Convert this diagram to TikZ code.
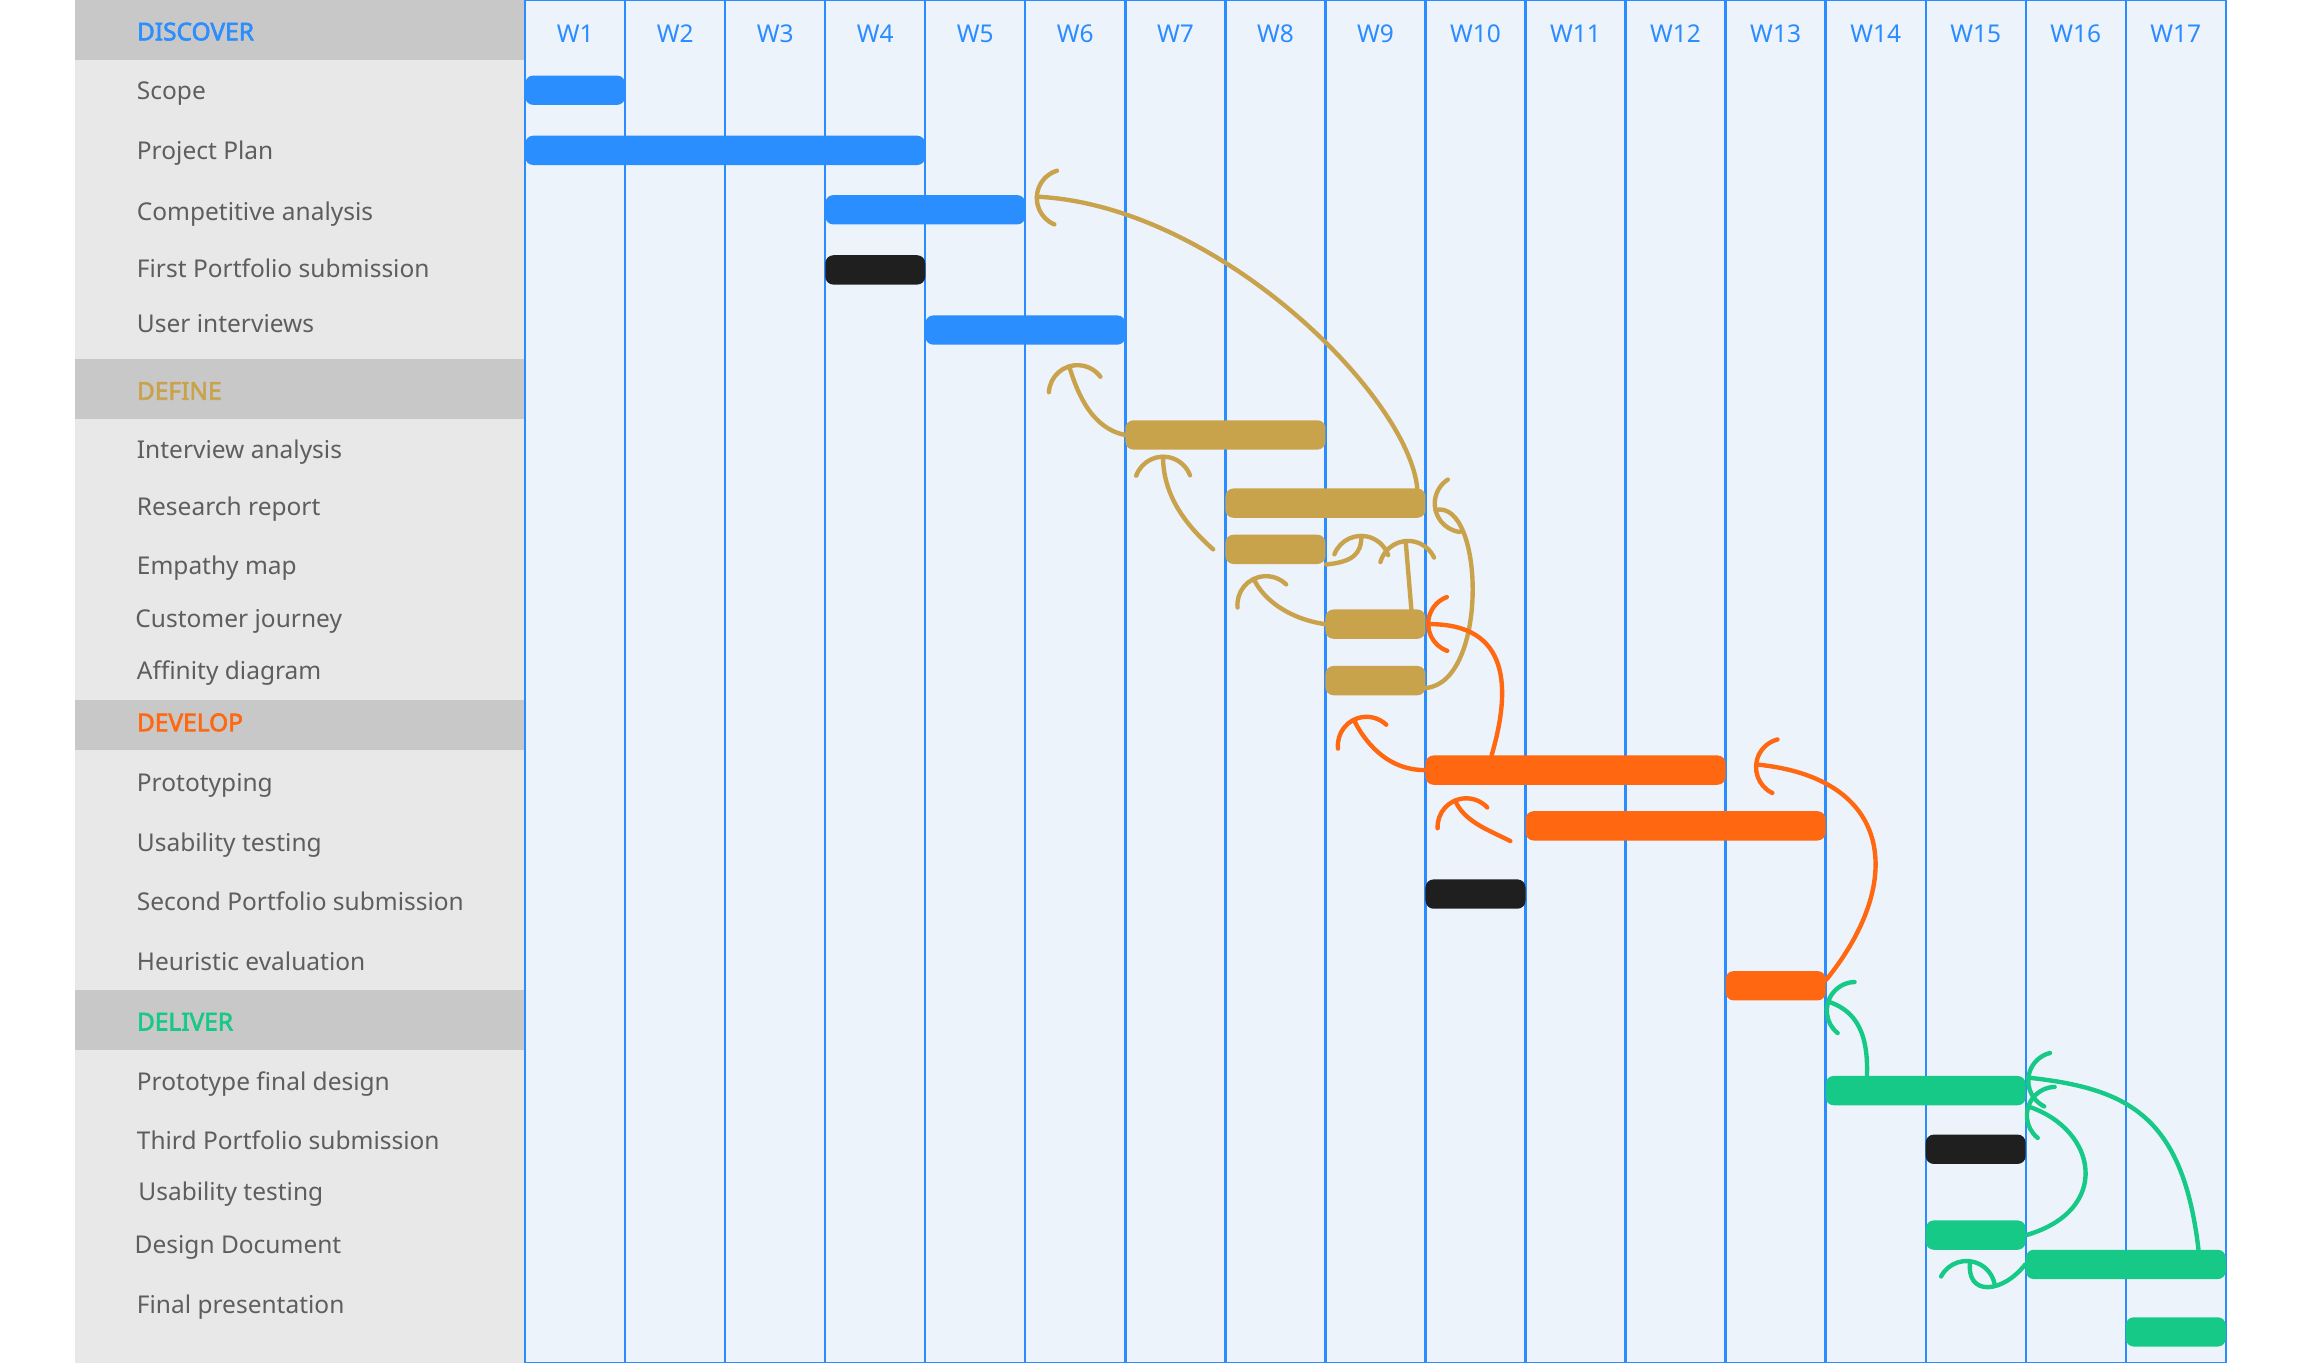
\documentclass[tikz,border=0pt]{standalone}
\usepackage{fontspec}
\setmainfont{Noto Sans}
\newfontfamily\headfont[FakeBold=2.5]{Noto Sans}
\usepackage{tikz}
\usetikzlibrary{arrows.meta}
\definecolor{discoverblue}{RGB}{42,142,255}
\definecolor{definegold}{RGB}{201,162,76}
\definecolor{developorange}{RGB}{255,103,17}
\definecolor{delivergreen}{RGB}{23,201,135}
\definecolor{milestone}{RGB}{31,31,31}
\definecolor{panelgray}{RGB}{232,232,232}
\definecolor{bandgray}{RGB}{200,200,200}
\definecolor{gridfill}{RGB}{236,243,251}
\definecolor{gridblue}{RGB}{43,140,255}
\definecolor{labelgray}{RGB}{94,94,94}
\newcommand\chartfont{\fontsize{9.5}{11.5}\selectfont}
\tikzset{
  weekcol/.style={draw=gridblue,line width=0.9pt},
  wlabel/.style={anchor=base,inner sep=0pt,text=gridblue},
  task/.style={anchor=base west,inner sep=0pt,text=labelgray},
  phase/.style={anchor=base west,inner sep=0pt,font=\chartfont\headfont},
  bar/.style={rounded corners=0.11cm,minimum height=0.4cm,inner sep=0pt},
  dep/.style={draw=#1,line width=1.7pt,line cap=round,-{Arc Barb[arc=140,length=4.2mm,width=8.4mm,round]}}
}

\begin{document}
\begin{tikzpicture}[font=\chartfont]
\useasboundingbox (0,0) rectangle (31.36,-18.58);
% task panel
\fill[panelgray] (1.02,0) rectangle (7.16,-18.58);
\foreach \ya/\yb in {0/-0.82,-4.90/-5.71,-9.54/-10.22,-13.50/-14.32}
  \fill[bandgray] (1.02,\ya) rectangle (7.16,\yb);
\node[phase,text=discoverblue] (discover) at (1.86,-0.55) {DISCOVER};
\node[phase,text=definegold] (define) at (1.86,-5.45) {DEFINE};
\node[phase,text=developorange] (develop) at (1.86,-9.97) {DEVELOP};
\node[phase,text=delivergreen] (deliver) at (1.86,-14.05) {DELIVER};
\foreach \x/\y/\txt [count=\i] in {1.86/-1.354/Scope,1.86/-2.172/Project Plan,
  1.86/-3.01/Competitive analysis,1.86/-3.79/First Portfolio submission,
  1.86/-4.53/User interviews,1.86/-6.25/Interview analysis,1.86/-7.03/Research report,
  1.86/-7.83/Empathy map,1.84/-8.55/Customer journey,1.86/-9.27/Affinity diagram,
  1.86/-10.79/Prototyping,1.86/-11.61/Usability testing,
  1.86/-12.41/Second Portfolio submission,1.86/-13.23/Heuristic evaluation,
  1.86/-14.87/Prototype final design,1.86/-15.67/Third Portfolio submission,
  1.88/-16.37/Usability testing,1.83/-17.09/Design Document,1.86/-17.91/Final presentation}
  \node[task] (t\i) at (\x,\y) {\txt};
% week grid
\fill[gridfill] (7.16,0) rectangle (30.348,-18.58);
\foreach \wk in {1,...,17} {
 \pgfmathsetmacro\xl{7.16+1.364*(\wk-1)}
 \draw[weekcol] (\xl,0) rectangle ({\xl+1.364},-18.58);
 \node[wlabel] (w\wk) at ({\xl+0.682},-0.58) {W\wk};
}
% bars: name/first week/last week/y/colour
\foreach \id/\wa/\wb/\y/\col in {scope/1/1/-1.23/discoverblue,plan/1/4/-2.05/discoverblue,
  comp/4/5/-2.86/discoverblue,port1/4/4/-3.68/milestone,users/5/6/-4.50/discoverblue,
  interview/7/8/-5.93/definegold,report/8/9/-6.86/definegold,empathy/8/8/-7.49/definegold,
  journey/9/9/-8.51/definegold,affinity/9/9/-9.28/definegold,
  proto/10/12/-10.50/developorange,test/11/13/-11.26/developorange,
  port2/10/10/-12.19/milestone,heur/13/13/-13.44/developorange,
  final/14/15/-14.87/delivergreen,port3/15/15/-15.67/milestone,doc/15/15/-16.84/delivergreen,
  pres/16/17/-17.24/delivergreen,pres2/17/17/-18.16/delivergreen} {
 \pgfmathsetmacro\cx{7.16+1.364*(\wa-1+\wb)/2}
 \pgfmathsetmacro\bw{1.364*(\wb-\wa+1)}
 \node[bar,fill=\col,minimum width=\bw cm] (\id) at (\cx,\y) {};
}
% define links
\draw[dep=definegold] ([xshift=-0.12cm]report.north east) .. controls (19.2,-5.4) and (16.6,-2.8) .. ([shift={(0.12,0.18)}]comp.east);
\draw[dep=definegold] (interview.west) .. controls (14.9,-5.84) and (14.7,-5.4) .. ([shift={(0.59,-0.26)}]users.south);
\draw[dep=definegold] ([xshift=-0.16cm]empathy.west) .. controls (16.1,-7.1) and (15.86,-6.7) .. ([shift={(0.52,-0.06)}]interview.south west);
\draw[dep=definegold] (journey.west) .. controls (17.6,-8.44) and (17.24,-8.2) .. ([shift={(0.38,-0.17)}]empathy.south west);
\draw[dep=definegold] (empathy.south east) .. controls (18.44,-7.66) and (18.56,-7.56) .. ([shift={(-0.88,-0.21)}]report.south east);
\draw[dep=definegold] ([xshift=-0.2cm]journey.north east) -- ([shift={(-0.28,-0.28)}]report.south east);
\draw[dep=definegold] ([yshift=-0.1cm]affinity.east) .. controls (20.3,-9.3) and (20.24,-6.8) .. ([shift={(0.1,-0.1)}]report.east);
% develop links
\draw[dep=developorange] ([xshift=0.91cm]proto.north west) .. controls (20.6,-9.4) and (20.6,-8.5) .. (journey.east);
\draw[dep=developorange] (proto.west) .. controls (18.9,-10.5) and (18.6,-10.1) .. ([shift={(0.38,-0.3)}]affinity.south west);
\draw[dep=developorange] ([xshift=-0.2cm]test.south west) .. controls (20.3,-11.32) and (19.96,-11.2) .. ([shift={(0.4,-0.18)}]proto.south west);
\draw[dep=developorange] ([yshift=0.08cm]heur.east) .. controls (26,-12) and (25.8,-10.6) .. ([shift={(0.38,0.08)}]proto.east);
% deliver links
\draw[dep=delivergreen] ([xshift=0.57cm]final.north west) .. controls (25.48,-14) and (25.24,-13.76) .. (heur.south east);
\draw[dep=delivergreen] ([xshift=-0.38cm]pres.north east) .. controls (29.76,-15.2) and (29,-14.84) .. ([yshift=0.18cm]final.east);
\draw[dep=delivergreen] (doc.east) .. controls (28.8,-16.5) and (28.6,-15.4) .. (final.south east);
\draw[dep=delivergreen] (pres.west) .. controls (27.3,-17.64) and (26.8,-17.68) .. ([shift={(-0.76,-0.12)}]doc.south east);
\end{tikzpicture}
\end{document}
